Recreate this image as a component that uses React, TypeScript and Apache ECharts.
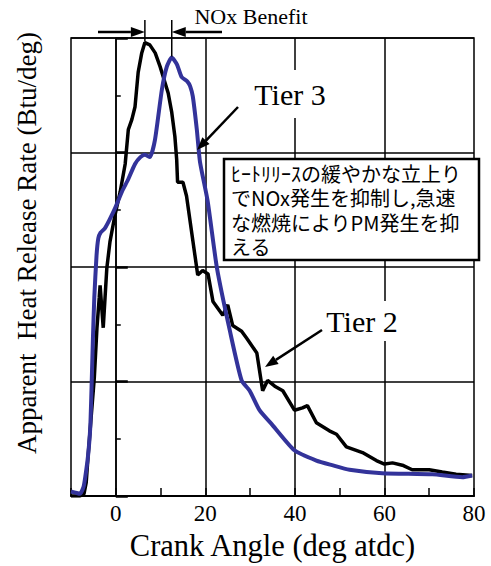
import React, { useEffect, useRef } from 'react';
import * as echarts from 'echarts';

// Tier 2 (black) heat release curve
const tier2X = [-10, -8, -7.1, -6.6, -6.2, -5.5, -4.8, -4.2, -3.7, -3.5, -3.2, -2.8, -2.4, -2.0, -1.3, -0.2, 1.0, 2.1, 2.8, 3.6, 4.3, 5.0, 5.8, 6.5, 7.6, 8.8, 9.9, 11.0, 11.7, 12.5, 13.2, 13.6, 13.8, 15.0, 15.8, 18.3, 19.4, 20.6, 21.7, 23.9, 25.0, 26.1, 28.1, 29.2, 31.5, 32.8, 33.9, 35.5, 37.3, 39.9, 41.7, 42.8, 44.8, 47.7, 49.3, 51.5, 55.1, 58.2, 60, 61.8, 64, 66.2, 70, 72.9, 76, 79.6];
const tier2Y = [0, 0, 0.02, 0.12, 0.34, 0.69, 1.03, 1.47, 1.73, 1.84, 1.68, 1.47, 1.73, 1.99, 2.22, 2.45, 2.66, 2.9, 3.2, 3.29, 3.4, 3.7, 3.87, 3.96, 3.94, 3.87, 3.75, 3.61, 3.52, 3.35, 3.14, 2.94, 2.74, 2.74, 2.62, 1.93, 1.97, 1.94, 1.7, 1.58, 1.67, 1.49, 1.44, 1.38, 1.25, 0.92, 1.01, 0.96, 0.92, 0.75, 0.77, 0.79, 0.64, 0.57, 0.54, 0.43, 0.38, 0.31, 0.28, 0.29, 0.27, 0.23, 0.23, 0.21, 0.19, 0.18];

// Tier 3 (blue) heat release curve
const tier3X = [-10, -9, -8, -7.2, -6.8, -6.2, -5.7, -5.35, -5.1, -4.8, -4.3, -3.9, -3.4, -2.4, -1.3, -0.2, 1.4, 2.7, 4.3, 5.5, 6.5, 7.6, 8.75, 10.3, 11.4, 12.5, 13.65, 14.7, 16.0, 16.6, 17.2, 18.1, 18.8, 20.5, 22.6, 25.5, 28.1, 29.9, 32.1, 35, 39.9, 44.8, 48.3, 52.2, 59.5, 70.7, 77.4, 79.6];
const tier3Y = [0.04, 0.03, 0.02, 0.08, 0.17, 0.35, 0.6, 1.03, 1.38, 1.73, 2.1, 2.25, 2.3, 2.34, 2.42, 2.51, 2.66, 2.76, 2.9, 2.96, 2.98, 2.96, 3.11, 3.55, 3.75, 3.83, 3.77, 3.66, 3.62, 3.58, 3.49, 3.2, 2.92, 2.58, 1.99, 1.44, 1.01, 0.92, 0.75, 0.62, 0.4, 0.31, 0.27, 0.23, 0.2, 0.19, 0.165, 0.18];

const xTickLabels = [0, 20, 40, 60, 80];
const xGridLines = [0, 20, 40, 60];
const noteLines = ['ﾋｰﾄﾘﾘｰｽの緩やかな立上り', 'でNOx発生を抑制し,急速', 'な燃焼によりPM発生を抑', 'える'];
const yTitle = 'Apparent\u00a0 Heat Release Rate (Btu/deg)';

const SERIF = 'Liberation Serif';
const CJK = 'Noto Sans CJK JP';
const BLUE = '#33339a';

function arrow(x1: number, y1: number, x2: number, y2: number, len: number, half: number) {
  const dx = x2 - x1;
  const dy = y2 - y1;
  const d = Math.sqrt(dx * dx + dy * dy);
  const ux = dx / d;
  const uy = dy / d;
  const bx = x2 - ux * len;
  const by = y2 - uy * len;
  const px = -uy * half;
  const py = ux * half;
  return [
    { type: 'line', z: 100, shape: { x1, y1, x2: bx, y2: by }, style: { stroke: '#000', lineWidth: 2.5 } },
    { type: 'polygon', z: 100, shape: { points: [[x2, y2], [bx + px, by + py], [bx - px, by - py]] }, style: { fill: '#000' } },
  ];
}

export default function App() {
  const ref = useRef<HTMLDivElement>(null);

  useEffect(() => {
    const chart = echarts.init(ref.current!, null, { renderer: 'svg' });
    const option: any = {
      animation: false,
      backgroundColor: '#fff',
      grid: { left: 71, right: 17, top: 38, bottom: 67, show: true, borderColor: '#000', borderWidth: 1.5 },
      xAxis: {
        type: 'value',
        min: -10,
        max: 80,
        interval: 10,
        axisLine: { show: true, lineStyle: { color: '#000', width: 2 } },
        axisTick: { show: true, inside: true, length: 8, lineStyle: { color: '#000', width: 1.5 } },
        axisLabel: {
          color: '#000',
          fontFamily: SERIF,
          fontSize: 23,
          margin: 6,
          formatter: (v: number) => (xTickLabels.indexOf(v) >= 0 ? String(v) : ''),
        },
        splitLine: { show: false },
        name: 'Crank Angle (deg atdc)',
        nameLocation: 'middle',
        nameGap: 33,
        nameTextStyle: { color: '#000', fontFamily: SERIF, fontSize: 30.5 },
      },
      yAxis: {
        type: 'value',
        min: 0,
        max: 4,
        interval: 1,
        axisLine: { show: true, lineStyle: { color: '#000', width: 1.5 } },
        axisTick: { show: true, inside: true, length: 12, lineStyle: { color: '#000', width: 2.5 } },
        minorTick: { show: true, splitNumber: 2, length: 5, lineStyle: { color: '#000', width: 1.5 } },
        axisLabel: { show: false },
        splitLine: { show: true, lineStyle: { color: '#000', width: 1.5 } },
      },
      series: [
        {
          name: 'Tier 2',
          type: 'line',
          z: 3,
          showSymbol: false,
          data: tier2X.map((x, i) => [x, tier2Y[i]]),
          lineStyle: { color: '#000', width: 3.5 },
          itemStyle: { color: '#000' },
          markLine: {
            silent: true,
            symbol: 'none',
            z: 1,
            label: { show: false },
            lineStyle: { color: '#000', width: 1.5, type: 'solid' },
            data: xGridLines.map((v) => ({ xAxis: v })),
          },
        },
        {
          name: 'Tier 3',
          type: 'line',
          z: 4,
          showSymbol: false,
          smooth: 0.2,
          data: tier3X.map((x, i) => [x, tier3Y[i]]),
          lineStyle: { color: BLUE, width: 4 },
          itemStyle: { color: BLUE },
        },
      ],
    };
    chart.setOption(option);

    const peakPixel = (xs: number[], ys: number[]) => {
      const m = Math.max(...ys);
      const i = ys.indexOf(m);
      return chart.convertToPixel({ gridIndex: 0 }, [xs[i], ys[i]]) as number[];
    };
    const p2 = peakPixel(tier2X, tier2Y);
    const p3 = peakPixel(tier3X, tier3Y);

    const textStyle = (text: string, size: number, family: string, extra: any = {}) => ({
      text,
      fontSize: size,
      fontFamily: family,
      fill: '#000',
      align: 'center',
      verticalAlign: 'middle',
      textAlign: 'center',
      textVerticalAlign: 'middle',
      ...extra,
    });

    const graphic: any[] = [
      // Y axis title
      { type: 'text', z: 100, x: 27, y: 243, rotation: Math.PI / 2, style: textStyle(yTitle, 27, SERIF) },
      // NOx benefit markers
      { type: 'line', z: 100, shape: { x1: p2[0], y1: 20, x2: p2[0], y2: p2[1] - 1 }, style: { stroke: '#000', lineWidth: 1.5 } },
      { type: 'line', z: 100, shape: { x1: p3[0], y1: 20, x2: p3[0], y2: p3[1] - 1 }, style: { stroke: '#000', lineWidth: 1.5 } },
      ...arrow(98, 32, p2[0], 32, 14, 5),
      ...arrow(222, 32, p3[0], 32, 14, 5),
      { type: 'text', z: 100, x: 251, y: 16, style: textStyle('NOx Benefit', 22, SERIF) },
      // Tier labels
      { type: 'text', z: 99, x: 290, y: 94, style: textStyle('Tier 3', 30, SERIF, { backgroundColor: '#fff', padding: [9, 4] }) },
      ...arrow(238, 107, 197, 150, 13, 5),
      { type: 'text', z: 99, x: 362, y: 321, style: textStyle('Tier 2', 30, SERIF, { backgroundColor: '#fff', padding: [5, 4] }) },
      ...arrow(322, 330, 265, 367, 13, 5),
      // Comment box
      { type: 'rect', z: 100, shape: { x: 224, y: 159, width: 255, height: 101 }, style: { fill: '#fff', stroke: '#000', lineWidth: 2.5 } },
      ...noteLines.map((t, i) => ({
        type: 'text',
        z: 101,
        x: 231,
        y: 173 + i * 24.5,
        style: {
          text: t,
          fontSize: 20,
          fontFamily: CJK,
          fill: '#000',
          align: 'left',
          verticalAlign: 'middle',
          textAlign: 'left',
          textVerticalAlign: 'middle',
        },
      })),
    ];
    chart.setOption({ graphic });

    return () => chart.dispose();
  }, []);

  return <div ref={ref} style={{ position: 'absolute', left: 0, top: 0, width: 491, height: 566 }} />;
}
